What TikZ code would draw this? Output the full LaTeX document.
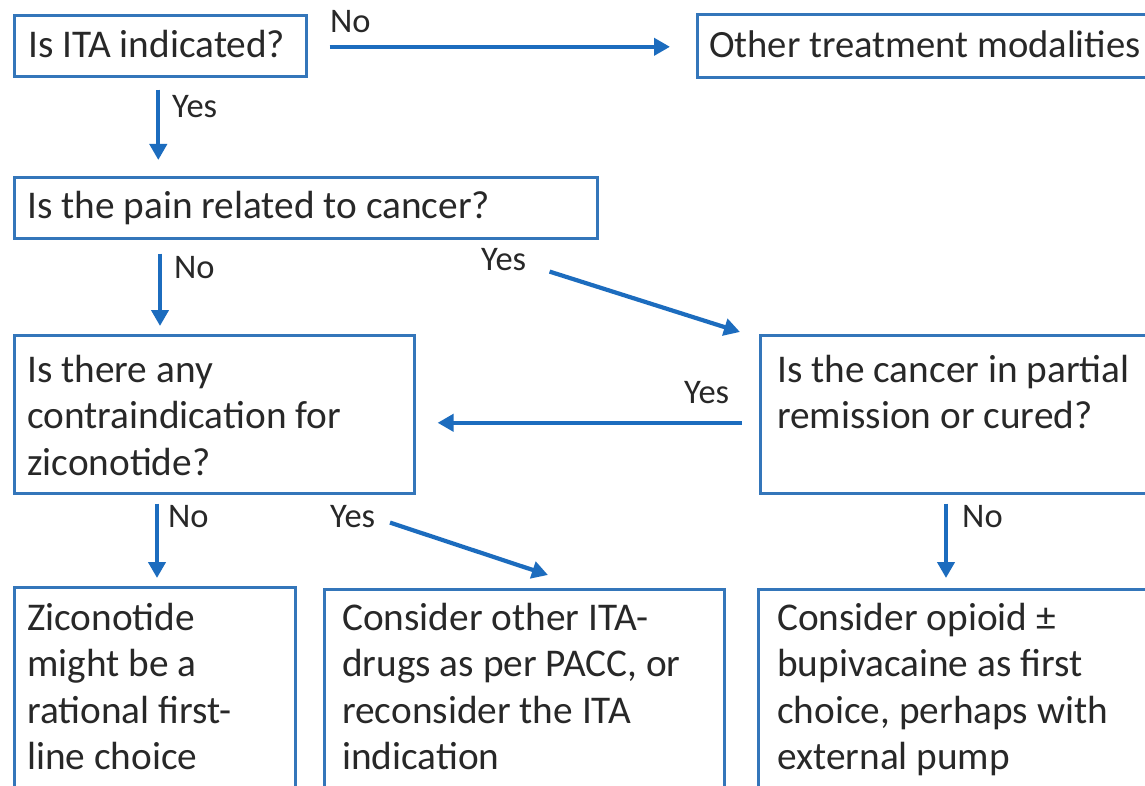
\documentclass[tikz,border=0pt]{standalone}
\usepackage{fontspec}
\setmainfont{Carlito}
\usetikzlibrary{arrows.meta}
\definecolor{boxblue}{RGB}{52,118,186}
\definecolor{arrblue}{RGB}{28,108,190}
\definecolor{txtgray}{RGB}{40,40,40}
\newcommand{\topstrut}{\rule{0pt}{32pt}}
\tikzset{
  box/.style={draw=boxblue, line width=2.6pt, fill=white, anchor=north west, inner sep=0pt},
  txt/.style={anchor=north west, inner sep=0pt, text=txtgray, align=left,
    font=\fontsize{39.3}{46.5}\selectfont},
  lbl/.style={anchor=base west, inner sep=0pt, text=txtgray,
    font=\fontsize{34.5}{40}\selectfont},
  arr/.style={draw=arrblue, line width=4.2pt, -{Triangle[length=16pt,width=17pt]}}
}
\begin{document}
\begin{tikzpicture}[x=1pt,y=-1pt]
\useasboundingbox (0,0) rectangle (1145,786);
\clip (0,0) rectangle (1145,786);
\fill[white] (0,0) rectangle (1145,786);
% boxes
\node[box, minimum width=292pt, minimum height=61pt] (b1) at (13,14) {};
\node[box, minimum width=470pt, minimum height=63pt] (b2) at (696,13) {};
\node[box, minimum width=583pt, minimum height=61pt] (b3) at (13,176) {};
\node[box, minimum width=400pt, minimum height=158pt] (b4) at (13,334) {};
\node[box, minimum width=410pt, minimum height=158pt] (b5) at (759,334) {};
\node[box, minimum width=281pt, minimum height=230pt] (b6) at (13,586) {};
\node[box, minimum width=400pt, minimum height=230pt] (b7) at (323,588) {};
\node[box, minimum width=410pt, minimum height=230pt] (b8) at (757,588) {};
% texts
\node[txt] (t1) at (28,25) {\topstrut Is ITA indicated?};
\node[txt, font=\fontsize{38.6}{46.5}\selectfont] (t2) at (709,25) {\topstrut Other treatment modalities};
\node[txt] (t3) at (27,186) {\topstrut Is the pain related to cancer?};
\node[txt] (t4) at (27,350) {\topstrut Is there any\\contraindication for\\ziconotide?};
\node[txt] (t5) at (777,350) {\topstrut Is the cancer in partial\\remission or cured?};
\node[txt] (t6) at (27,598) {\topstrut Ziconotide\\might be a\\rational first-\\line choice};
\node[txt] (t7) at (342,598) {\topstrut Consider other ITA-\\drugs as per PACC, or\\reconsider the ITA\\indication};
\node[txt] (t8) at (777,598) {\topstrut Consider opioid ±\\bupivacaine as first\\choice, perhaps with\\external pump};
% connectors
\draw[arr, shorten <=22pt, shorten >=26pt] ([yshift=-1pt]b1.east) -- ([yshift=-1pt]b1.east -| b2.west);
\draw[arr, shorten <=12pt, shorten >=16pt] ([xshift=-2pt]b1.south) -- ([xshift=-2pt]b1.south |- b3.north);
\draw[arr, shorten <=14pt, shorten >=8pt] ([xshift=147pt]b3.south west) -- ([xshift=147pt]b4.north west);
\draw[arr] ([xshift=-49pt,yshift=-32pt]b3.south east) -- ([xshift=-19pt,yshift=2pt]b5.north west);
\draw[arr, shorten <=17pt, shorten >=22pt] ([yshift=-8.5pt]b5.west) -- ([yshift=-8.5pt]b4.east);
\draw[arr, shorten <=9pt, shorten >=8pt] ([xshift=144pt]b4.south west) -- ([xshift=144pt]b6.north west);
\draw[arr] ([xshift=377pt,yshift=-28pt]b4.south west) -- ([xshift=225pt,yshift=13pt]b7.north west);
\draw[arr, shorten <=9pt, shorten >=10pt] ([xshift=187pt]b5.south west) -- ([xshift=189pt]b8.north west);
% labels
\node[lbl] (l1) at (330,33) {No};
\node[lbl] (l2) at (172,118) {Yes};
\node[lbl] (l3) at (174,279) {No};
\node[lbl] (l4) at (481,270) {Yes};
\node[lbl] (l5) at (684,403) {Yes};
\node[lbl] (l6) at (168,527) {No};
\node[lbl] (l7) at (330,527) {Yes};
\node[lbl] (l8) at (962,527) {No};
\end{tikzpicture}
\end{document}
